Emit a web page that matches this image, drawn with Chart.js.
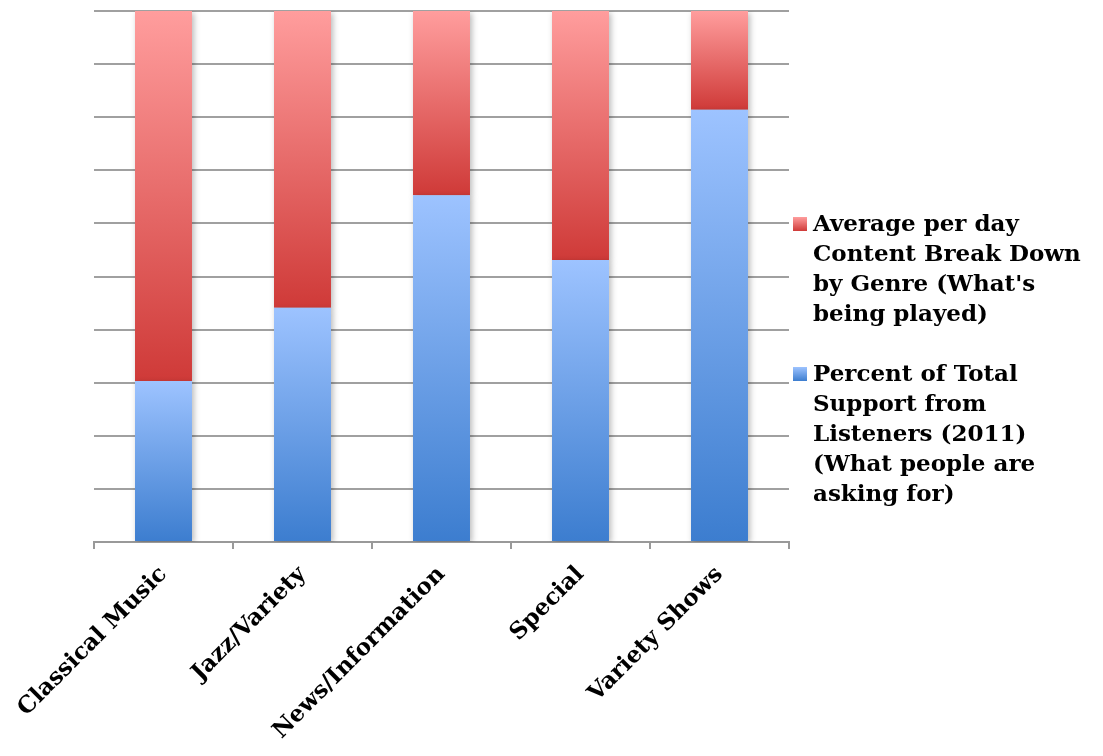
<!DOCTYPE html>
<html>
<head>
<meta charset="utf-8">
<script src="https://cdn.jsdelivr.net/npm/chart.js@4/dist/chart.umd.min.js"></script>
<style>
  body { margin: 0; background: #fff; }
  #wrap { position: relative; width: 1103px; height: 756px; }
  #legend {
    position: absolute; left: 793px; top: 208px; width: 300px;
    font: bold 23px "DejaVu Serif", serif; color: #000; line-height: 30px;
  }
  .item { display: flex; align-items: flex-start; margin-bottom: 30px; }
  .swatch { flex: none; width: 14px; height: 14px; margin: 9px 6px 0 0; }
</style>
</head>
<body>
<div id="wrap">
  <canvas id="myChart" width="1103" height="756"></canvas>
  <div id="legend"></div>
</div>
<script>
// genres and share of each (percent of 100% stack)
const genres = ['Classical Music', 'Jazz/Variety', 'News/Information', 'Special', 'Variety Shows'];
const supportPct = [30.3, 44.1, 65.3, 53.1, 81.4];
const contentPct = [69.7, 55.9, 34.7, 46.9, 18.6];
const seriesNames = [
  "Percent of Total Support from Listeners (2011) (What people are asking for)",
  "Average per day Content Break Down by Genre (What's being played)"
];
const yTicks = [0, 10, 20, 30, 40, 50, 60, 70, 80, 90, 100];

const blueStops = ['#3c7dcf', '#9dc3ff'];
const redStops = ['#cf3a38', '#ff9d9d'];

// vertical gradient per bar segment, bottom -> top
function segGradient(stops, stackBelow) {
  return function(context) {
    const chart = context.chart;
    const y = chart.scales.y;
    if (!y || context.dataIndex == null) return stops[0];
    const i = context.dataIndex;
    const start = stackBelow ? stackBelow[i] : 0;
    const end = start + context.dataset.data[i];
    const bottom = y.getPixelForValue(start);
    const top = y.getPixelForValue(end);
    if (!isFinite(bottom) || !isFinite(top) || bottom === top) return stops[0];
    const g = chart.ctx.createLinearGradient(0, bottom, 0, top);
    g.addColorStop(0, stops[0]);
    g.addColorStop(1, stops[1]);
    return g;
  };
}

// soft shadow behind the bars
const barShadow = {
  id: 'barShadow',
  beforeDatasetsDraw(chart) {
    const ctx = chart.ctx;
    ctx.save();
    ctx.shadowColor = 'rgba(0,0,0,0.28)';
    ctx.shadowBlur = 6;
    ctx.shadowOffsetX = 2;
    ctx.shadowOffsetY = 2;
  },
  afterDatasetsDraw(chart) {
    chart.ctx.restore();
  }
};

const ctx = document.getElementById('myChart').getContext('2d');
const myChart = new Chart(ctx, {
  type: 'bar',
  data: {
    labels: genres,
    datasets: [{
      label: seriesNames[0],
      data: supportPct,
      backgroundColor: segGradient(blueStops, null),
      legendColor: blueStops
    }, {
      label: seriesNames[1],
      data: contentPct,
      backgroundColor: segGradient(redStops, supportPct),
      legendColor: redStops
    }]
  },
  options: {
    responsive: false,
    animation: false,
    devicePixelRatio: 1,
    categoryPercentage: 0.82,
    barPercentage: 0.5,
    layout: { padding: { top: 11, right: 314, left: 0, bottom: 0 } },
    plugins: { legend: { display: false }, tooltip: { enabled: false } },
    scales: {
      x: {
        stacked: true,
        grid: {
          offset: true, drawOnChartArea: false, drawTicks: true,
          tickLength: 7, color: '#999', lineWidth: 2
        },
        border: { display: true, color: '#999', width: 2 },
        ticks: {
          minRotation: 45, maxRotation: 45, padding: 12,
          color: '#000',
          font: { family: 'DejaVu Serif', weight: 'bold', size: 23 }
        },
        afterFit(scale) { scale.height = 214; }
      },
      y: {
        stacked: true,
        min: 0, max: 100,
        afterBuildTicks(scale) { scale.ticks = yTicks.map(v => ({ value: v })); },
        ticks: { display: false },
        grid: { color: '#a0a0a0', lineWidth: 2, drawTicks: false },
        border: { display: false },
        afterFit(scale) { scale.width = 94; }
      }
    }
  },
  plugins: [barShadow]
});

// legend on the right, red series listed first
const legendBox = document.getElementById('legend');
myChart.data.datasets.slice().reverse().forEach(ds => {
  legendBox.innerHTML += `
    <div class="item">
      <span class="swatch" style="background:linear-gradient(to top, ${ds.legendColor[0]}, ${ds.legendColor[1]})"></span>
      <span>${ds.label}</span>
    </div>`;
});
</script>
</body>
</html>
